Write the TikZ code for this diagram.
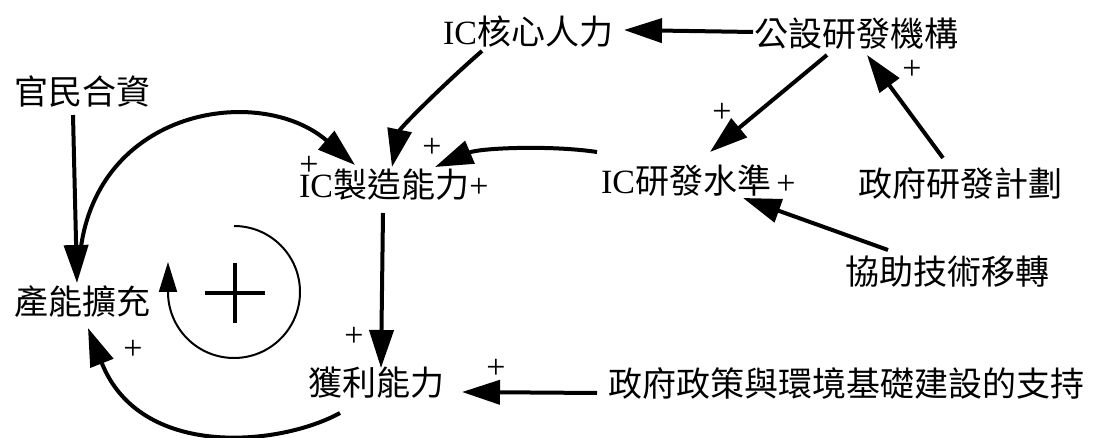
\documentclass[tikz,border=0pt]{standalone}
\usepackage{fontspec}
\setmainfont{Liberation Serif}
\newfontfamily\cjk{Noto Sans CJK TC}
\usetikzlibrary{arrows.meta}
\begin{document}
\begin{tikzpicture}[x=1pt,y=1pt,
  var/.style={inner sep=0pt,text height=29pt,text depth=5pt,font=\fontsize{34}{36}\selectfont},
  pl/.style={inner sep=0pt,font=\fontsize{34}{36}\selectfont},
  link/.style={line width=4pt,-{Triangle[length=38pt,width=24pt]}},
  loopline/.style={line width=2pt,-{Triangle[length=30pt,width=18pt]}}]
\path[use as bounding box] (0,0) rectangle (1103,438);
% variables
\node[var] (gm) at (82,345) {\cjk 官民合資};
\node[var] (cn) at (82,135) {\cjk 產能擴充};
\node[var] (hr) at (528,405) {IC{\cjk 核心人力}};
\node[var] (pub) at (856,403) {\cjk 公設研發機構};
\node[var] (mfg) at (384,252) {IC{\cjk 製造能力}};
\node[var] (rd) at (686,256) {IC{\cjk 研發水準}};
\node[var] (plan) at (960,253) {\cjk 政府研發計劃};
\node[var] (tt) at (947,165) {\cjk 協助技術移轉};
\node[var] (pr) at (376,54) {\cjk 獲利能力};
\node[var] (gov) at (846,53) {\cjk 政府政策與環境基礎建設的支持};
% links
\draw[link] ([shift={(-9,-22)}]gm.center) -- ([shift={(-5,20)}]cn.center);
\draw[link] ([shift={(-2,48)}]cn.center) .. controls (95,330) and (260,355) .. ([shift={(-29,21)}]mfg.center);
\draw[link] ([shift={(-46,-18)}]hr.center) .. controls (445,355) and (400,310) .. ([shift={(8,19)}]mfg.center);
\draw[link] ([shift={(-89,30)}]rd.center) .. controls (550,293) and (480,290) .. ([shift={(51,19)}]mfg.center);
\draw[link] ([shift={(-103,3)}]pub.center) -- ([shift={(96,3)}]hr.center);
\draw[link] ([shift={(-29,-20)}]pub.center) -- ([shift={(24,30)}]rd.center);
\draw[link] ([shift={(-17,27)}]plan.center) -- ([shift={(11,-20)}]pub.center);
\draw[link] ([shift={(-59,23)}]tt.center) -- ([shift={(57,-16)}]rd.center);
\draw[link] ([shift={(-1,-27)}]mfg.center) -- ([shift={(5,16)}]pr.center);
\draw[link] ([shift={(-249,-8)}]gov.center) -- ([shift={(86,-8)}]pr.center);
\draw[link] ([shift={(-36,-29)}]pr.center) .. controls (280,-8) and (140,-22) .. ([shift={(6,-25)}]cn.center);
% polarity signs
\node[pl] (p1) at (133,88) {+};
\node[pl] (p2) at (309,272) {+};
\node[pl] (p3) at (432,290) {+};
\node[pl] (p4) at (479,250) {+};
\node[pl] (p5) at (722,325) {+};
\node[pl] (p6) at (786,253) {+};
\node[pl] (p7) at (912,368) {+};
\node[pl] (p8) at (354,101) {+};
\node[pl] (p9) at (496,69) {+};
% loop symbol
\draw[loopline] (234,212) arc[start angle=90,end angle=-180,radius=66] -- ++(0,30);
\draw[line width=4pt] (205,145) -- (265,145);
\draw[line width=4pt] (235,115) -- (235,175);
\end{tikzpicture}
\end{document}
